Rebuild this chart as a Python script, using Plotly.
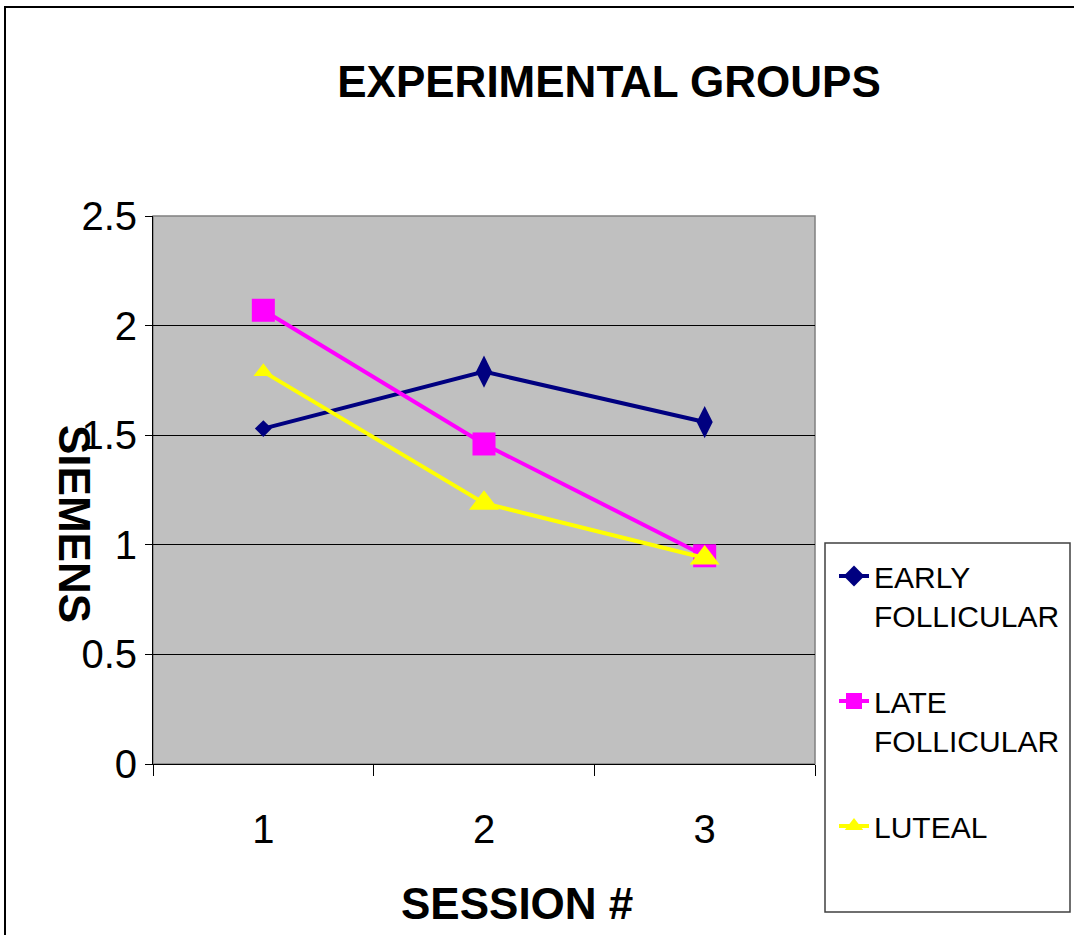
import plotly.graph_objects as go

# Sessions and mean conductance (siemens) per group
sessions = ["1", "2", "3"]
early_follicular = [1.53, 1.79, 1.56]
late_follicular = [2.07, 1.46, 0.95]
luteal = [1.79, 1.19, 0.94]

y_ticks = [0, 0.5, 1, 1.5, 2, 2.5]

FONT = "Arial, Liberation Sans, sans-serif"

# plot area in pixels
W, H = 1074, 935
L, R, T, B = 153, 815, 216, 764


def px_x(px):
    return (px - L) / (R - L)


def px_y(py):
    return (B - py) / (B - T)


fig = go.Figure()

fig.add_trace(go.Scatter(
    x=sessions, y=early_follicular, mode="lines+markers",
    name="EARLY<br>FOLLICULAR", legendgroup="a",
    line=dict(color="#000080", width=4),
    marker=dict(symbol=["diamond", "diamond-tall", "diamond-tall"],
                size=[13, 23, 23], color="#000080", opacity=1,
                line=dict(width=0)),
))
fig.add_trace(go.Scatter(
    x=sessions, y=late_follicular, mode="lines+markers",
    name="LATE<br>FOLLICULAR", legendgroup="b",
    line=dict(color="#FF00FF", width=4),
    marker=dict(symbol="square", size=23, color="#FF00FF", opacity=1,
                line=dict(width=0)),
))
fig.add_trace(go.Scatter(
    x=sessions, y=luteal, mode="lines+markers",
    name="LUTEAL", legendgroup="c",
    line=dict(color="#FFFF00", width=4),
    marker=dict(symbol="triangle-up", size=[17, 26, 26], color="#FFFF00",
                opacity=1, line=dict(width=0)),
))

fig.update_layout(
    width=W, height=H,
    margin=dict(l=L, r=W - R, t=T, b=H - B, autoexpand=False),
    paper_bgcolor="white",
    plot_bgcolor="#C0C0C0",
    font=dict(family=FONT, color="black"),
    showlegend=True,
    legend=dict(
        x=px_x(834), y=px_y(550), xanchor="left", yanchor="top",
        font=dict(size=30, family=FONT, color="black"),
        bgcolor="rgba(0,0,0,0)", borderwidth=0,
        traceorder="grouped", tracegroupgap=44, valign="top",
    ),
    xaxis=dict(
        type="category", range=[-0.5, 2.5],
        showline=True, linecolor="black", linewidth=1,
        ticks="outside", tickson="boundaries", ticklen=11,
        tickcolor="black", tickwidth=1,
        showgrid=False, zeroline=False,
        tickfont=dict(size=40, family=FONT),
        ticklabelstandoff=30,
    ),
    yaxis=dict(
        range=[0, 2.5], tickvals=y_ticks,
        showline=True, linecolor="black", linewidth=1,
        ticks="outside", ticklen=7, tickcolor="black", tickwidth=1,
        showgrid=True, gridcolor="black", gridwidth=1,
        zeroline=False,
        tickfont=dict(size=40, family=FONT),
    ),
    title=dict(
        text="<b>EXPERIMENTAL GROUPS</b>",
        x=609 / W, xref="container", xanchor="center",
        y=1 - 82 / H, yref="container", yanchor="middle",
        font=dict(size=44, family=FONT, color="black"),
    ),
    annotations=[
        dict(text="<b>SIEMENS</b>", textangle=90,
             x=px_x(75), y=px_y(524), xref="paper", yref="paper",
             xanchor="center", yanchor="middle", showarrow=False,
             font=dict(size=44, family=FONT, color="black")),
        dict(text="<b>SESSION #</b>",
             x=px_x(517), y=px_y(903), xref="paper", yref="paper",
             xanchor="center", yanchor="middle", showarrow=False,
             font=dict(size=44, family=FONT, color="black")),
    ],
    shapes=[
        # plot area border (top / right)
        dict(type="rect", xref="paper", yref="paper", x0=0, x1=1, y0=0, y1=1,
             line=dict(color="#808080", width=1.5), layer="below"),
        # legend frame
        dict(type="rect", xref="paper", yref="paper",
             x0=px_x(825), x1=px_x(1070), y0=px_y(912), y1=px_y(543),
             line=dict(color="#404040", width=1.5)),
        # chart frame
        dict(type="rect", xref="paper", yref="paper",
             x0=px_x(5), x1=px_x(1120), y0=px_y(990), y1=px_y(7),
             line=dict(color="black", width=2)),
    ],
)

fig.write_html("out.html")
